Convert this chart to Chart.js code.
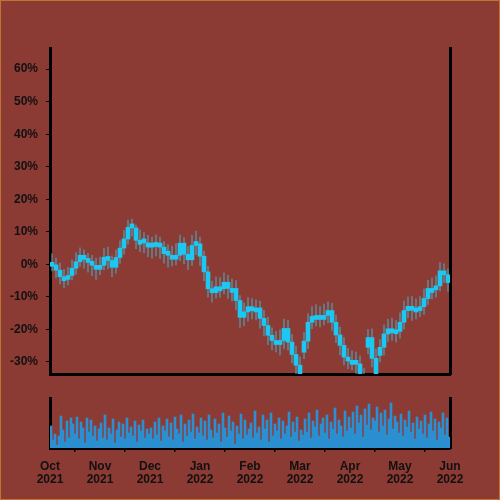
<!DOCTYPE html>
<html>
<head>
<meta charset="utf-8">
<script src="https://cdn.jsdelivr.net/npm/chart.js@4.4.1/dist/chart.umd.min.js"></script>
<style>
  html, body { margin: 0; padding: 0; }
  #frame { position: relative; width: 500px; height: 500px; box-sizing: border-box; border: 1px solid #c4722f; background: #8c3a34; overflow: hidden; }
  #priceWrap { position: absolute; left: -1px; top: -1px; width: 500px; height: 380px; }
  #volWrap { position: absolute; left: -1px; top: 379px; width: 500px; height: 120px; }
</style>
</head>
<body>
<div id="frame">
  <div id="priceWrap"><canvas id="price"></canvas></div>
  <div id="volWrap"><canvas id="volume"></canvas></div>
</div>
<script>
const monthNames = ["Oct", "Nov", "Dec", "Jan", "Feb", "Mar", "Apr", "May", "Jun"];
const monthYears = ["2021", "2021", "2021", "2022", "2022", "2022", "2022", "2022", "2022"];

// price change in %, one candle every ~2.4 days
const opens = [
    0.5, 0.0, -1.8, -3.8, -4.2, -3.4, -1.2, 0.8, 2.8, 1.5,
    0.6, -0.3, -0.8, -0.3, 2.2, 1.2, -0.9, 2.1, 5.0, 7.8,
    11.4, 11.2, 7.4, 7.4, 6.6, 5.3, 5.5, 6.3, 5.3, 3.3,
    2.8, 2.8, 2.8, 6.5, 3.1, 1.4, 5.8, 6.3, 2.5, -2.3,
    -7.5, -8.7, -6.9, -7.5, -5.5, -7.4, -7.4, -11.1, -16.3, -14.6,
    -13.0, -14.2, -13.4, -16.6, -18.8, -21.8, -23.4, -23.4, -23.4, -19.7,
    -23.9, -27.7, -31.0, -27.0, -23.6, -17.8, -16.0, -15.7, -15.7, -15.7,
    -14.2, -17.8, -21.7, -24.9, -28.5, -29.5, -29.5, -30.6, -34.2, -25.5,
    -22.5, -28.9, -28.0, -25.5, -21.4, -19.8, -20.1, -20.6, -17.8, -14.2,
    -12.9, -13.4, -13.9, -13.0, -10.5, -7.4, -7.4, -6.6, -2.0, -3.2
];
const closes = [
    0.0, -1.8, -3.8, -4.2, -3.4, -1.2, 0.8, 2.8, 1.5, 0.6,
    -0.3, -0.8, -0.3, 2.2, 1.2, -0.9, 2.1, 5.0, 7.8, 11.4,
    11.2, 7.4, 7.4, 6.6, 5.3, 5.5, 6.3, 5.3, 3.3, 2.8,
    2.8, 2.8, 6.5, 3.1, 1.4, 5.8, 6.3, 2.5, -2.3, -7.5,
    -8.7, -6.9, -7.5, -5.5, -7.4, -7.4, -11.1, -16.3, -14.6, -13.0,
    -14.2, -13.4, -16.6, -18.8, -21.8, -23.4, -23.4, -23.4, -19.7, -23.9,
    -27.7, -31.0, -37.0, -23.6, -17.8, -16.0, -15.7, -15.7, -15.7, -14.2,
    -17.8, -21.7, -24.9, -28.5, -29.5, -29.5, -30.6, -34.2, -38.0, -22.5,
    -28.9, -35.5, -25.5, -21.4, -19.8, -20.1, -20.6, -17.8, -14.2, -12.9,
    -13.4, -13.9, -13.0, -10.5, -7.4, -7.4, -6.6, -2.0, -3.2, -5.6
];
const highs = [
    3.2, 1.9, 0.4, -1.5, -0.9, 1.4, 3.6, 5.1, 4.5, 3.4,
    2.8, 1.9, 2.2, 4.9, 5.3, 2.6, 4.4, 7.2, 10.4, 13.6,
    13.9, 12.1, 10.6, 9.8, 8.9, 8.3, 9.1, 8.4, 7.0, 6.1,
    5.6, 6.4, 9.0, 8.2, 5.5, 8.9, 10.2, 8.4, 4.1, -0.6,
    -5.2, -3.8, -4.1, -2.6, -3.4, -4.5, -5.0, -9.6, -11.8, -10.2,
    -10.5, -10.9, -11.3, -14.1, -16.2, -19.5, -20.6, -20.1, -16.8, -17.2,
    -21.5, -25.2, -28.4, -21.0, -15.1, -13.0, -12.4, -12.9, -12.2, -11.5,
    -12.0, -15.6, -19.3, -22.5, -25.8, -26.6, -27.0, -28.1, -32.0, -20.0,
    -19.8, -26.0, -23.1, -18.6, -16.9, -16.5, -17.3, -14.9, -11.3, -10.0,
    -9.8, -10.6, -9.9, -7.6, -4.9, -4.2, -3.5, 0.6, 0.2, -1.4
];
const lows = [
    -2.0, -4.1, -6.0, -7.2, -6.3, -4.8, -3.0, -0.6, -1.2, -2.4,
    -3.5, -4.6, -3.2, -1.7, -1.4, -3.8, -2.7, 0.3, 3.1, 6.2,
    8.7, 4.8, 3.9, 3.6, 2.4, 1.9, 2.6, 1.8, 0.4, -0.9,
    -0.5, -0.2, 1.1, 0.2, -1.6, -0.3, 3.0, -0.4, -5.0, -10.1,
    -11.6, -10.4, -10.2, -9.1, -10.5, -11.2, -14.0, -19.4, -18.9, -17.5,
    -16.8, -17.1, -19.6, -22.0, -24.7, -26.3, -26.9, -27.8, -25.9, -26.4,
    -30.3, -33.6, -39.5, -29.0, -25.9, -19.8, -18.9, -19.2, -18.6, -18.0,
    -20.3, -24.1, -27.8, -30.9, -32.1, -32.4, -33.5, -36.8, -40.0, -27.5,
    -31.5, -38.0, -30.0, -27.9, -23.8, -23.4, -23.9, -22.7, -19.9, -16.5,
    -17.2, -16.8, -16.1, -15.4, -12.3, -10.6, -10.1, -8.2, -5.6, -8.3
];
// volume, one bar every ~1.2 days
const volumes = [
    22, 8, 14, 3, 12, 32, 18, 6, 27, 10, 30, 24, 14, 31, 9, 26, 20, 5, 30, 16, 28, 12, 22, 7, 19,
    25, 10, 33, 8, 20, 14, 29, 5, 18, 26, 11, 24, 9, 30, 15, 21, 12, 27, 6, 23, 17, 28, 10, 19, 14,
    20, 9, 26, 13, 30, 7, 22, 17, 29, 11, 25, 8, 31, 19, 14, 33, 6, 24, 12, 28, 16, 34, 9, 21, 15,
    30, 12, 27, 8, 33, 18, 10, 29, 15, 24, 6, 35, 20, 11, 32, 17, 26, 4, 22, 14, 34, 9, 28, 13, 19,
    25, 10, 37, 15, 21, 8, 33, 19, 28, 6, 35, 12, 24, 17, 30, 9, 27, 14, 22, 36, 11, 26, 16, 31, 7,
    18, 13, 29, 16, 35, 10, 27, 21, 38, 12, 24, 30, 15, 33, 9, 26, 19, 40, 14, 28, 22, 11, 37, 17, 31,
    20, 36, 14, 42, 25, 33, 11, 39, 23, 44, 18, 30, 27, 41, 16, 35, 22, 38, 13, 29, 45, 19, 32, 26, 15,
    34, 12, 28, 21, 37, 16, 25, 9, 31, 19, 27, 14, 33, 10, 24, 36, 17, 29, 8, 26, 20, 35, 13, 30, 11
];

const months = monthNames.length - 1;
const candleStep = months / closes.length;
const volStep = months / volumes.length;

const bodies = closes.map((c, i) => ({ x: (i + 0.5) * candleStep, y: [opens[i], c] }));
const wicks = closes.map((c, i) => ({ x: (i + 0.5) * candleStep, y: [lows[i], highs[i]] }));
const volBars = volumes.map((v, i) => ({ x: (i + 0.5) * volStep, y: v }));

Chart.defaults.font.family = "'Liberation Sans', Arial, sans-serif";
Chart.defaults.font.size = 12;
Chart.defaults.font.weight = "bold";
Chart.defaults.color = "#111";

// fixed axis boxes so both charts share the same plot edges
const fixWidth = (w) => (axis) => {
    axis.width = w;
    axis.paddingTop = 0;
    axis.paddingBottom = 0;
};
const fixHeight = (h) => (axis) => {
    axis.height = h;
    axis.paddingLeft = 0;
    axis.paddingRight = 0;
};
const sideAxis = {
    position: "right",
    ticks: { display: false },
    grid: { display: false },
    border: { color: "#000", width: 3 },
    afterFit: fixWidth(50),
};

new Chart(document.getElementById("price"), {
    type: "bar",
    data: {
        datasets: [
            {
                data: wicks,
                backgroundColor: "rgba(75, 170, 195, 0.65)",
                barThickness: 1,
                grouped: false,
                clip: 0,
                order: 2,
            },
            {
                data: bodies,
                backgroundColor: "#1cc8f2",
                barThickness: 4,
                minBarLength: 4,
                grouped: false,
                clip: 0,
                order: 1,
            },
        ],
    },
    options: {
        responsive: true,
        maintainAspectRatio: false,
        animation: false,
        layout: { padding: { top: 48 } },
        plugins: { legend: { display: false }, tooltip: { enabled: false } },
        scales: {
            x: {
                type: "linear",
                offset: false,
                min: 0,
                max: months,
                ticks: { display: false },
                grid: { display: false },
                border: { color: "#000", width: 3 },
                afterFit: fixHeight(6),
            },
            y: {
                min: -33.7,
                max: 66.5,
                ticks: {
                    stepSize: 10,
                    includeBounds: false,
                    padding: 8,
                    callback: (v) => v + "%",
                },
                grid: { drawOnChartArea: false, color: "#000", tickLength: 4 },
                border: { color: "#000", width: 3 },
                afterFit: fixWidth(50),
            },
            y2: sideAxis,
        },
    },
});

new Chart(document.getElementById("volume"), {
    type: "bar",
    data: {
        datasets: [
            {
                data: volBars,
                backgroundColor: "#2b8fd0",
                barThickness: 2,
                clip: 0,
            },
        ],
    },
    options: {
        responsive: true,
        maintainAspectRatio: false,
        animation: false,
        layout: { padding: { top: 18 } },
        plugins: { legend: { display: false }, tooltip: { enabled: false } },
        scales: {
            x: {
                type: "linear",
                offset: false,
                min: 0,
                max: months,
                ticks: {
                    stepSize: 1,
                    autoSkip: false,
                    maxRotation: 0,
                    padding: 8,
                    font: { lineHeight: 1.1 },
                    callback: (v) => [monthNames[v], monthYears[v]],
                },
                grid: { drawOnChartArea: false, color: "#000", tickLength: 4, lineWidth: 1.5 },
                border: { color: "#000", width: 3 },
                afterFit: fixHeight(52),
            },
            y: {
                min: 0,
                max: 50,
                ticks: { display: false },
                grid: { display: false },
                border: { color: "#000", width: 3 },
                afterFit: fixWidth(50),
            },
            y2: sideAxis,
        },
    },
});
</script>
</body>
</html>
